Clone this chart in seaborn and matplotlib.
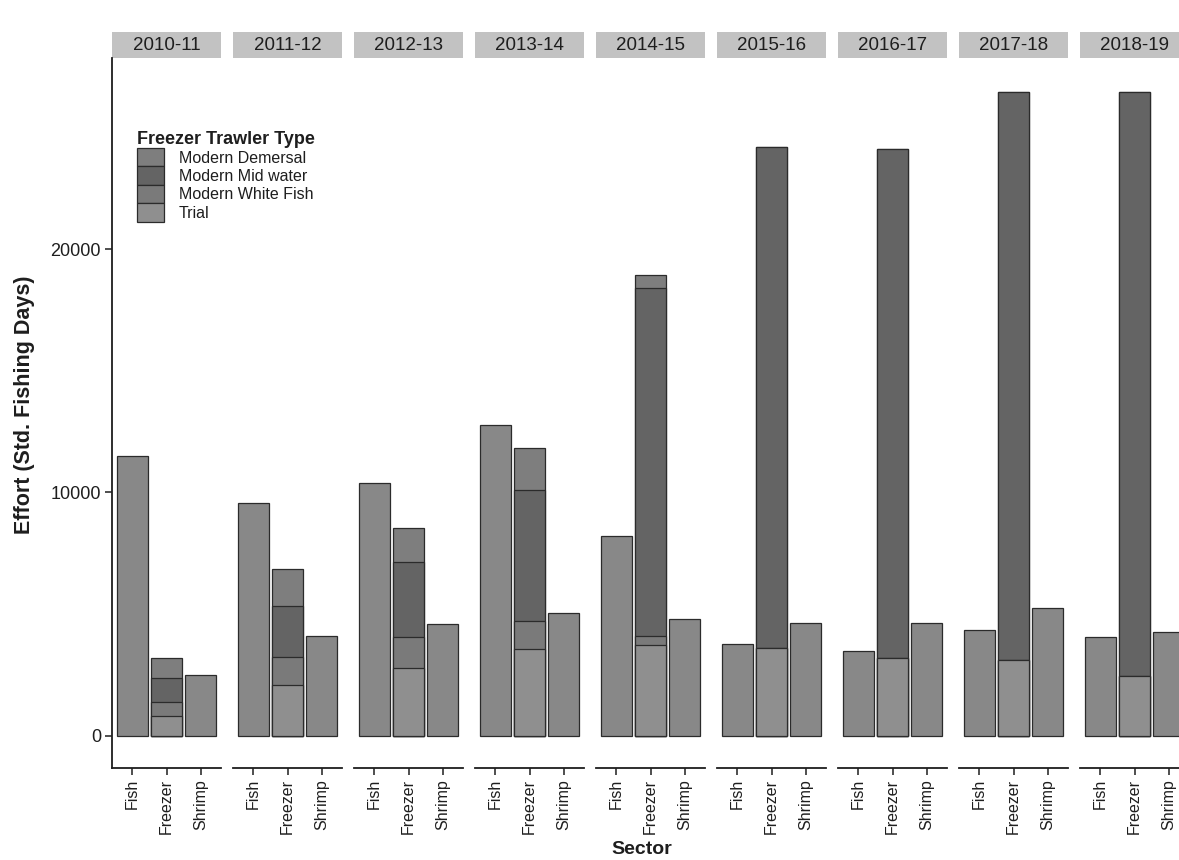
import pandas as pd
import matplotlib
matplotlib.use("Agg")
import matplotlib.pyplot as plt
from matplotlib.patches import Patch, Rectangle
import seaborn as sns

# effort (standardised fishing days)
years = ["2010-11", "2011-12", "2012-13", "2013-14", "2014-15",
         "2015-16", "2016-17", "2017-18", "2018-19"]
sectors = ["Fish", "Freezer", "Shrimp"]

fish_days = [11480, 9550, 10370, 12790, 8200, 3770, 3480, 4340, 4060]
shrimp_days = [2500, 4100, 4590, 5040, 4800, 4630, 4630, 5250, 4260]

# freezer sector split by trawler type
demersal = [820, 1520, 1430, 1720, 530, 0, 0, 0, 0]
midwater = [980, 2090, 3070, 5370, 14300, 20600, 20900, 23360, 24000]
whitefish = [570, 1150, 1270, 1150, 370, 0, 0, 0, 0]
trial = [820, 2090, 2790, 3570, 3730, 3610, 3200, 3110, 2460]

trawler_types = ["Modern Demersal", "Modern Mid water", "Modern White Fish", "Trial"]
type_colors = {
    "Modern Demersal": "#7e7e7e",
    "Modern Mid water": "#646464",
    "Modern White Fish": "#7a7a7a",
    "Trial": "#8f8f8f",
}
other_color = "#888888"
edge = "#2b2b2b"
strip_color = "#c2c2c2"

sns.set_theme(style="white")
plt.rcParams["font.family"] = ["Liberation Sans Narrow", "Liberation Sans", "DejaVu Sans"]
plt.rcParams["text.color"] = "#1e1e1e"
plt.rcParams["xtick.color"] = "#1e1e1e"
plt.rcParams["ytick.color"] = "#1e1e1e"

# long table with the cumulative top of every stacked piece (Trial at the bottom)
rows = []
for i, yr in enumerate(years):
    rows.append({"year": yr, "sector": "Fish", "layer": "Other", "top": fish_days[i]})
    rows.append({"year": yr, "sector": "Shrimp", "layer": "Other", "top": shrimp_days[i]})
    cum = 0
    for name, v in [("Trial", trial[i]), ("Modern White Fish", whitefish[i]),
                    ("Modern Mid water", midwater[i]), ("Modern Demersal", demersal[i])]:
        cum += v
        rows.append({"year": yr, "sector": "Freezer", "layer": name, "top": cum})
df = pd.DataFrame(rows)

W, H = 1179, 860
fig = plt.figure(figsize=(W / 100, H / 100), dpi=100)

panel_left, panel_w, panel_step = 112, 109, 121
panel_top, panel_bottom = 58, 768

draw_order = [("Other", other_color)] + [(t, type_colors[t]) for t in trawler_types]

for i, yr in enumerate(years):
    ax = fig.add_axes([(panel_left + i * panel_step) / W, (H - panel_bottom) / H,
                       panel_w / W, (panel_bottom - panel_top) / H])
    sub = df[df["year"] == yr]
    for layer, col in draw_order:
        part = sub[sub["layer"] == layer]
        sns.barplot(data=part, x="sector", y="top", order=sectors, color=col,
                    saturation=1, width=0.9, edgecolor=edge, linewidth=0.9,
                    errorbar=None, ax=ax)

    ax.set_xlim(-0.6, 2.6)
    ax.set_ylim(-1320, 27850)
    ax.set_xlabel("")
    ax.set_ylabel("")
    ax.tick_params(axis="x", bottom=True, length=5, width=1.1, labelsize=11.5,
                   labelrotation=90, pad=3)
    for s in ["top", "right"]:
        ax.spines[s].set_visible(False)
    ax.spines["bottom"].set_linewidth(1.3)
    ax.spines["bottom"].set_color("#1e1e1e")
    if i == 0:
        ax.set_yticks([0, 10000, 20000])
        ax.set_yticklabels(["0", "10000", "20000"])
        ax.tick_params(axis="y", left=True, length=5, width=1.1, labelsize=13, pad=3)
        ax.spines["left"].set_linewidth(1.3)
        ax.spines["left"].set_color("#1e1e1e")
    else:
        ax.spines["left"].set_visible(False)
        ax.set_yticks([])

    # facet strip
    strip_h = 26 / (panel_bottom - panel_top)
    ax.add_patch(Rectangle((0, 1.0), 1, strip_h, transform=ax.transAxes,
                           facecolor=strip_color, edgecolor="none", clip_on=False))
    ax.text(0.5, 1.0 + strip_h / 2, yr, transform=ax.transAxes, ha="center",
            va="center", fontsize=13.5)

fig.text(25 / W, 1 - 405 / H, "Effort (Std. Fishing Days)", rotation=90,
         ha="center", va="center", fontsize=15.5, fontweight="bold")
fig.text(642 / W, 1 - 849 / H, "Sector", ha="center", va="center",
         fontsize=14, fontweight="bold")

handles = [Patch(facecolor=type_colors[t], edgecolor=edge, linewidth=0.9)
           for t in trawler_types]
leg = fig.legend(handles, trawler_types, title="Freezer Trawler Type",
                 loc="upper left", bbox_to_anchor=(137 / W, 1 - 131 / H),
                 bbox_transform=fig.transFigure, frameon=False, fontsize=11.5,
                 title_fontproperties={"weight": "bold", "size": 13},
                 handlelength=1.7, handleheight=1.4, labelspacing=0.0,
                 handletextpad=0.9, borderpad=0, borderaxespad=0,
                 alignment="left")

fig.savefig("out.png", dpi=100)
